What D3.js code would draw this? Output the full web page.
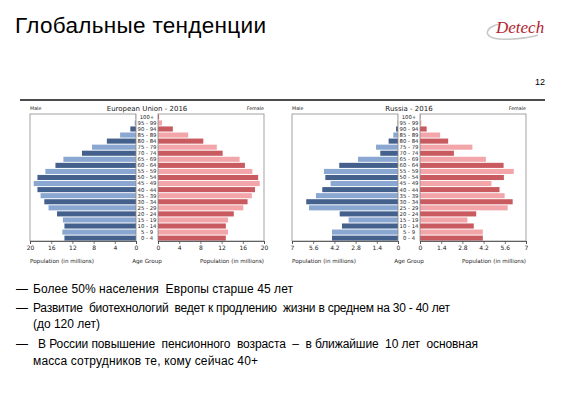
<!DOCTYPE html>
<html><head><meta charset="utf-8">
<script src="https://cdn.jsdelivr.net/npm/d3@7"></script>
<style>
html,body{margin:0;padding:0;background:#fff;}
svg{display:block;font-family:"Liberation Sans",Arial,sans-serif;}
</style></head>
<body>
<svg id="c" width="561" height="397"></svg>
<script>
// ---- data ----
const ageGroups = ["0 - 4","5 - 9","10 - 14","15 - 19","20 - 24","25 - 29","30 - 34","35 - 39","40 - 44","45 - 49","50 - 54","55 - 59","60 - 64","65 - 69","70 - 74","75 - 79","80 - 84","85 - 89","90 - 94","95 - 99","100+"];
const euMale   = [13.5,13.9,13.5,13.8,14.9,16.5,17.3,18.0,18.6,19.3,18.6,17.1,15.2,13.7,10.2,8.3,5.5,3.0,1.07,0.25,0.05];
const euFemale = [12.8,13.2,12.8,13.2,14.3,16.1,16.9,17.7,18.3,19.2,18.9,17.8,16.4,15.4,12.2,11.1,8.55,5.7,2.8,0.75,0.2];
const ruMale   = [4.36,4.36,3.7,3.26,3.85,5.88,6.06,5.42,5.0,4.45,4.8,4.89,3.88,2.64,1.17,1.45,0.62,0.31,0.13,0.04,0.01];
const ruFemale = [4.15,4.15,3.55,3.13,3.71,5.79,6.12,5.59,5.25,4.72,5.54,6.19,5.52,4.35,2.24,3.46,1.86,1.33,0.44,0.09,0.03];
const euTicks = [0,4,8,12,16,20];
const ruTicks = [0,1.4,2.8,4.2,5.6,7];
const bullets = [
  ["Более 50% населения  Европы старше 45 лет"],
  ["Развитие  биотехнологий  ведет к продлению  жизни в среднем на 30 - 40 лет","(до 120 лет)"],
  ["В России повышение  пенсионного  возраста  –  в ближайшие  10 лет  основная","масса сотрудников те, кому сейчас 40+"]
];

const svg = d3.select("#c");
const C = {mDark:"#44618d", mLight:"#8aa7d2", fDark:"#c85a60", fLight:"#f3a6a9"};

// header
svg.append("text").attr("x",15).attr("y",33).attr("font-size",22.5).attr("fill","#000")
  .attr("textLength",251).attr("lengthAdjust","spacing").text("Глобальные тенденции");
svg.append("text").attr("x",545).attr("y",85).attr("font-size",9).attr("text-anchor","end").text("12");
// logo
svg.append("path").attr("d","M500,24 C484,27 482,38 500,39 C516,40 532,37 538,35")
  .attr("fill","none").attr("stroke","#c8c8c8").attr("stroke-width",1.6);
svg.append("text").attr("x",496).attr("y",33).attr("font-size",17).attr("font-style","italic")
  .attr("font-family","'Liberation Serif','DejaVu Serif',serif").attr("fill","#b2232f").text("Detech");

// separator line
svg.append("line").attr("x1",20).attr("x2",545).attr("y1",100).attr("y2",100).attr("stroke","#111").attr("stroke-width",1.3);

function pyramid(o){
  const g = svg.append("g");
  const top=114, bottom=241;
  const y = d3.scaleBand().domain(ageGroups.slice().reverse()).range([top,bottom]).paddingInner(0.16).paddingOuter(0.05);
  const xl = d3.scaleLinear().domain([0,o.max]).range([o.zl,o.fl]);
  const xr = d3.scaleLinear().domain([0,o.max]).range([o.zr,o.fr]);
  g.selectAll(".m").data(ageGroups).join("rect")
    .attr("x",(d,i)=>xl(o.male[i])).attr("width",(d,i)=>o.zl-xl(o.male[i]))
    .attr("y",d=>y(d)).attr("height",y.bandwidth())
    .attr("fill",(d,i)=>i%2===0?C.mDark:C.mLight);
  g.selectAll(".f").data(ageGroups).join("rect")
    .attr("x",o.zr).attr("width",(d,i)=>xr(o.female[i])-o.zr)
    .attr("y",d=>y(d)).attr("height",y.bandwidth())
    .attr("fill",(d,i)=>i%2===0?C.fDark:C.fLight);
  g.append("rect").attr("x",o.fl).attr("y",top).attr("width",o.zl-o.fl).attr("height",bottom-top)
    .attr("fill","none").attr("stroke","#8a8a8a").attr("stroke-width",0.8);
  g.append("rect").attr("x",o.zr).attr("y",top).attr("width",o.fr-o.zr).attr("height",bottom-top)
    .attr("fill","none").attr("stroke","#8a8a8a").attr("stroke-width",0.8);
  const fmt = d3.format("~g");
  [xl,xr].forEach(s=>{
    const a = g.append("g").attr("transform",`translate(0,${bottom})`)
      .call(d3.axisBottom(s).tickValues(o.ticks).tickSize(3).tickPadding(2).tickFormat(fmt));
    a.select(".domain").attr("stroke","#444").attr("stroke-width",0.8);
    a.selectAll(".tick line").attr("stroke","#444").attr("stroke-width",0.7);
    a.selectAll("text").attr("font-size",6).attr("fill","#222").attr("font-family","'DejaVu Sans',sans-serif");
  });
  const cx=(o.zl+o.zr)/2;
  g.selectAll(".a").data(ageGroups).join("text")
    .attr("x",cx).attr("y",d=>y(d)+y.bandwidth()/2+1.9).attr("text-anchor","middle")
    .attr("font-size",5.3).attr("font-family","'DejaVu Sans',sans-serif").attr("fill","#222").text(d=>d);
  const small = (t,x,yy,anch,fs)=>g.append("text").attr("x",x).attr("y",yy).attr("text-anchor",anch)
    .attr("font-size",fs).attr("font-family","'DejaVu Sans',sans-serif").attr("fill","#222").text(t);
  small(o.title,cx,111,"middle",7);
  small("Male",o.fl,110,"start",4.8);
  small("Female",o.fr,110,"end",4.8);
  small("Population (in millions)",o.fl,263,"start",5.6);
  small("Age Group",cx,263,"middle",5.6);
  small("Population (in millions)",o.fr,263,"end",5.6);
}
pyramid({title:"European Union - 2016",male:euMale,female:euFemale,max:20,ticks:euTicks,fl:30,zl:136,zr:158,fr:264});
pyramid({title:"Russia - 2016",male:ruMale,female:ruFemale,max:7,ticks:ruTicks,fl:292,zl:398,zr:420,fr:526});

// bullets: [baseline, startX, width]
const layout = [[[293,33,260]],[[312,33,417],[328,33,67]],[[348,38,440],[365,33,225]]];
bullets.forEach((b,i)=>{
  svg.append("text").attr("x",16).attr("y",layout[i][0][0]).attr("font-size",12).text("—");
  b.forEach((line,j)=>{
    const [yy,xx,w]=layout[i][j];
    svg.append("text").attr("x",xx).attr("y",yy).attr("font-size",12).attr("fill","#000")
      .attr("xml:space","preserve").style("white-space","pre")
      .attr("textLength",w).attr("lengthAdjust","spacing").text(line);
  });
});
</script>
</body></html>
